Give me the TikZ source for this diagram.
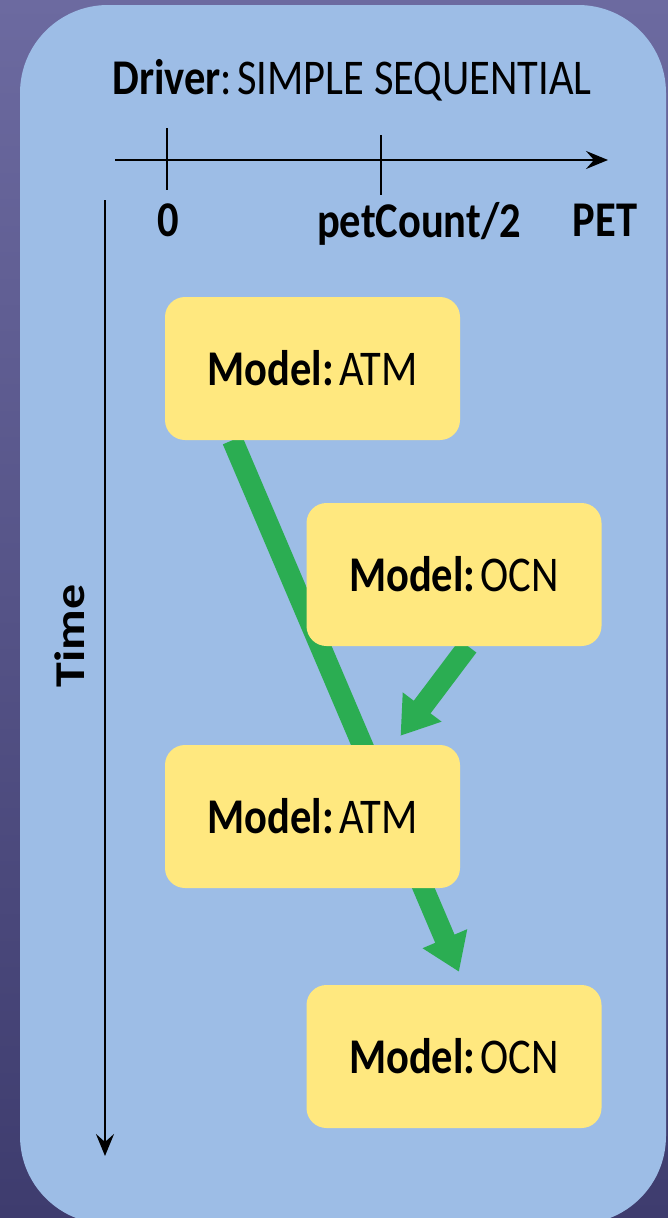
\documentclass[tikz,border=0pt]{standalone}
\usepackage{fontspec}
\setmainfont{Carlito}
\usetikzlibrary{arrows.meta}
\definecolor{bgtop}{HTML}{6C6AA0}
\definecolor{bgbot}{HTML}{3E3C6E}
\definecolor{panelblue}{HTML}{9DBDE6}
\definecolor{boxyellow}{HTML}{FFE87F}
\definecolor{flowgreen}{HTML}{2BAD52}
\pgfdeclarelayer{back}
\pgfdeclarelayer{mid}
\pgfsetlayers{back,mid,main}
% narrow, tall lettering
\newcommand\narrow[1]{\scalebox{0.85}[1]{#1}}
\newcommand\modeltext[1]{\narrow{\textbf{Model:}\hspace{0.12em}#1}}
\begin{document}
\begin{tikzpicture}[x=1pt,y=-1pt,
  bigfont/.style={font=\fontsize{50}{60}\selectfont},
  modelbox/.style={fill=boxyellow, rounded corners=20pt, minimum width=295pt,
    minimum height=143pt, inner sep=0pt, bigfont},
  axisline/.style={line width=2.4pt, -{Stealth[length=22pt,width=18pt,inset=8pt]}},
  tickline/.style={line width=2pt},
  flow/.style={flowgreen, line width=21pt, -{Triangle[length=36pt,width=46pt]}},
  lbl/.style={bigfont, inner sep=0pt}]
\useasboundingbox (0,0) rectangle (668,1218);

% models
\node[modelbox] (atmA) at (312.5,368.5) {\modeltext{ATM}};
\node[modelbox] (ocnA) at (454,574.5) {\modeltext{OCN}};
\node[modelbox] (atmB) at (312.5,816.5) {\modeltext{ATM}};
\node[modelbox] (ocnB) at (454,1056.5) {\modeltext{OCN}};

% title and PET axis
\node[lbl] (title) at (352,80) {\narrow{\textbf{Driver}:\hspace{0.12em}SIMPLE SEQUENTIAL}};
\coordinate (petStart) at (115,160);
\coordinate (petEnd) at (608,160);
\coordinate (tickAtop) at (167,128);
\coordinate (tickAbot) at (167,190);
\coordinate (tickBtop) at (381,135);
\coordinate (tickBbot) at (381,195);
\draw[axisline] (petStart) -- (petEnd);
\draw[tickline] (tickAtop) -- (tickAbot);
\draw[tickline] (tickBtop) -- (tickBbot);
\node[lbl] (zero) at (168,220) {\narrow{\textbf{0}}};
\node[lbl] (half) at (419,224) {\narrow{\textbf{petCount/2}}};
\node[lbl] (pet) at (605,220) {\narrow{\textbf{PET}}};

% time axis
\coordinate (timeStart) at (105,200);
\coordinate (timeEnd) at (105,1156);
\draw[axisline] (timeStart) -- (timeEnd);
\node[lbl, rotate=90] (time) at (70,636) {\scalebox{1}[0.85]{\textbf{Time}}};

% control flow between models
\begin{pgfonlayer}{mid}
\draw[flow] ([xshift=-80pt]atmA.south) -- ([xshift=5pt,yshift=13pt]ocnB.north);
\draw[flow] ([xshift=14pt]ocnA.south) -- ([xshift=88pt,yshift=9pt]atmB.north);
\end{pgfonlayer}

% backdrop and panel
\begin{pgfonlayer}{back}
\shade[top color=bgtop, bottom color=bgbot] (0,0) rectangle (668,1218);
\fill[panelblue, rounded corners=88pt] (20,5) rectangle (666,1224);
\end{pgfonlayer}
\end{tikzpicture}
\end{document}
